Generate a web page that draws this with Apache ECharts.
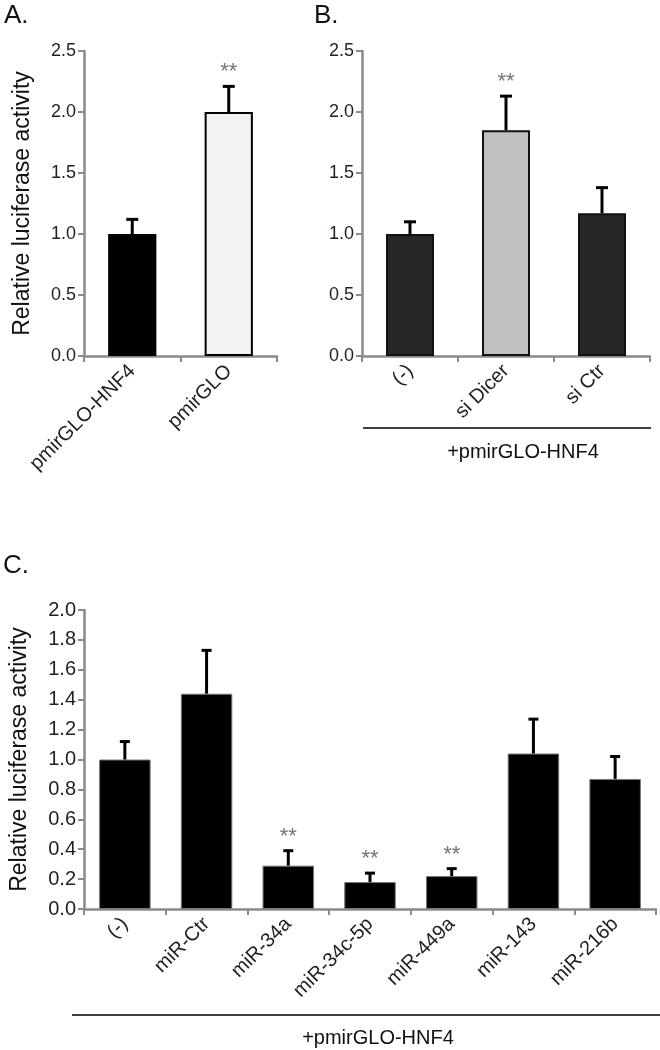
<!DOCTYPE html>
<html>
<head>
<meta charset="utf-8">
<script src="https://cdn.jsdelivr.net/npm/echarts@6/dist/echarts.min.js"></script>
<style>
html,body{margin:0;padding:0;background:#fff;}
#main{width:660px;height:1050px;}
</style>
</head>
<body>
<div id="main"></div>
<script>
// ---- data ----
const catsA = ['pmirGLO-HNF4', 'pmirGLO'];
const valsA = [1.0, 2.0];
const errA = [0.12, 0.21];
const sigA = [false, true];

const catsB = ['(-)', 'si Dicer', 'si Ctr'];
const valsB = [1.0, 1.85, 1.17];
const errB = [0.10, 0.28, 0.21];
const sigB = [false, true, false];

const catsC = ['(-)', 'miR-Ctr', 'miR-34a', 'miR-34c-5p', 'miR-449a', 'miR-143', 'miR-216b'];
const valsC = [1.0, 1.44, 0.29, 0.18, 0.22, 1.04, 0.87];
const errC = [0.12, 0.29, 0.10, 0.06, 0.05, 0.23, 0.15];
const sigC = [false, false, true, true, true, false, false];

const ticksAB = {min: 0, max: 2.5, interval: 0.5};
const ticksC = {min: 0, max: 2.0, interval: 0.2};
const yTitle = 'Relative luciferase activity';
const groupLabel = '+pmirGLO-HNF4';

// ---- styles ----
const FONT = '"Liberation Sans", Arial, sans-serif';
const AXIS_GRAY = '#8a8a8a';
const TXT = '#1e1e2a';
const fillA = ['#000000', '#f2f2f2'];
const fillB = ['#262626', '#c0c0c0', '#262626'];

function xAxisCfg(gi, cats, size) {
  return {
    type: 'category', gridIndex: gi, data: cats,
    axisLine: {lineStyle: {color: AXIS_GRAY, width: 2.5}},
    axisTick: {show: true, length: 6, lineStyle: {color: AXIS_GRAY, width: 2}},
    axisLabel: {rotate: 45, color: TXT, fontSize: size, fontFamily: FONT, margin: 12, interval: 0}
  };
}
function yAxisCfg(gi, t, showName, gap, size) {
  return {
    type: 'value', gridIndex: gi, min: t.min, max: t.max, interval: t.interval,
    name: showName ? yTitle : '', nameLocation: 'middle', nameGap: gap,
    nameTextStyle: {fontSize: 23, color: '#111', fontFamily: FONT},
    splitLine: {show: false},
    axisLine: {show: true, lineStyle: {color: AXIS_GRAY, width: 2.5}},
    axisTick: {show: true, length: 6, lineStyle: {color: AXIS_GRAY, width: 2}},
    axisLabel: {color: TXT, fontSize: size, fontFamily: FONT, margin: 8,
      formatter: v => v.toFixed(1)}
  };
}
function barSeries(gi, vals, colors, borderColor, borderWidth, width) {
  return {
    type: 'bar', xAxisIndex: gi, yAxisIndex: gi, barWidth: width,
    data: vals.map((v, i) => ({value: v, itemStyle: {color: colors ? colors[i] : '#000',
      borderColor: borderColor, borderWidth: borderWidth}})),
    z: 2
  };
}
function errSeries(gi, vals, errs, sig, cap, lw) {
  return {
    type: 'custom', xAxisIndex: gi, yAxisIndex: gi, z: 5,
    data: vals.map((v, i) => [i, v, v + errs[i], sig[i] ? 1 : 0]),
    renderItem: function (params, api) {
      const i = api.value(0);
      const lo = api.coord([i, api.value(1)]);
      const hi = api.coord([i, api.value(2)]);
      const st = {stroke: '#000', lineWidth: lw};
      const children = [
        {type: 'line', shape: {x1: lo[0], y1: lo[1], x2: hi[0], y2: hi[1]}, style: st},
        {type: 'line', shape: {x1: hi[0] - cap, y1: hi[1], x2: hi[0] + cap, y2: hi[1]}, style: st}
      ];
      if (api.value(3)) {
        children.push({type: 'text', x: hi[0], y: hi[1] - 3,
          style: {text: '**', fill: '#6f7680', font: '22px ' + FONT, align: 'center', verticalAlign: 'bottom'}});
      }
      return {type: 'group', children: children};
    }
  };
}

const chart = echarts.init(document.getElementById('main'), null, {renderer: 'canvas'});
const option = {
  animation: false,
  backgroundColor: '#fff',
  grid: [
    {left: 84, top: 51, width: 193, height: 305},
    {left: 362, top: 51, width: 288, height: 305},
    {left: 82, top: 610, width: 574, height: 299}
  ],
  xAxis: [xAxisCfg(0, catsA, 20), xAxisCfg(1, catsB, 20), xAxisCfg(2, catsC, 20)],
  yAxis: [yAxisCfg(0, ticksAB, true, 50, 18), yAxisCfg(1, ticksAB, false, 50, 18), yAxisCfg(2, ticksC, true, 53, 20)],
  series: [
    barSeries(0, valsA, fillA, '#000', 2, '50%'),
    errSeries(0, valsA, errA, sigA, 6, 3),
    barSeries(1, valsB, fillB, '#111', 2, '50%'),
    errSeries(1, valsB, errB, sigB, 6, 3),
    barSeries(2, valsC, null, '#777', 1, '63%'),
    errSeries(2, valsC, errC, sigC, 5, 3)
  ],
  graphic: [
    {type: 'text', left: 4, top: 3, style: {text: 'A.', font: '26px ' + FONT, fill: '#111'}},
    {type: 'text', left: 314, top: 3, style: {text: 'B.', font: '26px ' + FONT, fill: '#111'}},
    {type: 'text', left: 3, top: 553, style: {text: 'C.', font: '26px ' + FONT, fill: '#111'}},
    {type: 'line', shape: {x1: 363, y1: 428, x2: 651, y2: 428}, style: {stroke: '#000', lineWidth: 1.5}},
    {type: 'text', x: 523, y: 452, style: {text: groupLabel, font: '20px ' + FONT, fill: '#111', align: 'center', verticalAlign: 'middle'}},
    {type: 'line', shape: {x1: 72, y1: 1015, x2: 660, y2: 1015}, style: {stroke: '#000', lineWidth: 1.5}},
    {type: 'text', x: 378, y: 1038, style: {text: groupLabel, font: '20px ' + FONT, fill: '#111', align: 'center', verticalAlign: 'middle'}}
  ]
};
chart.setOption(option);
</script>
</body>
</html>
